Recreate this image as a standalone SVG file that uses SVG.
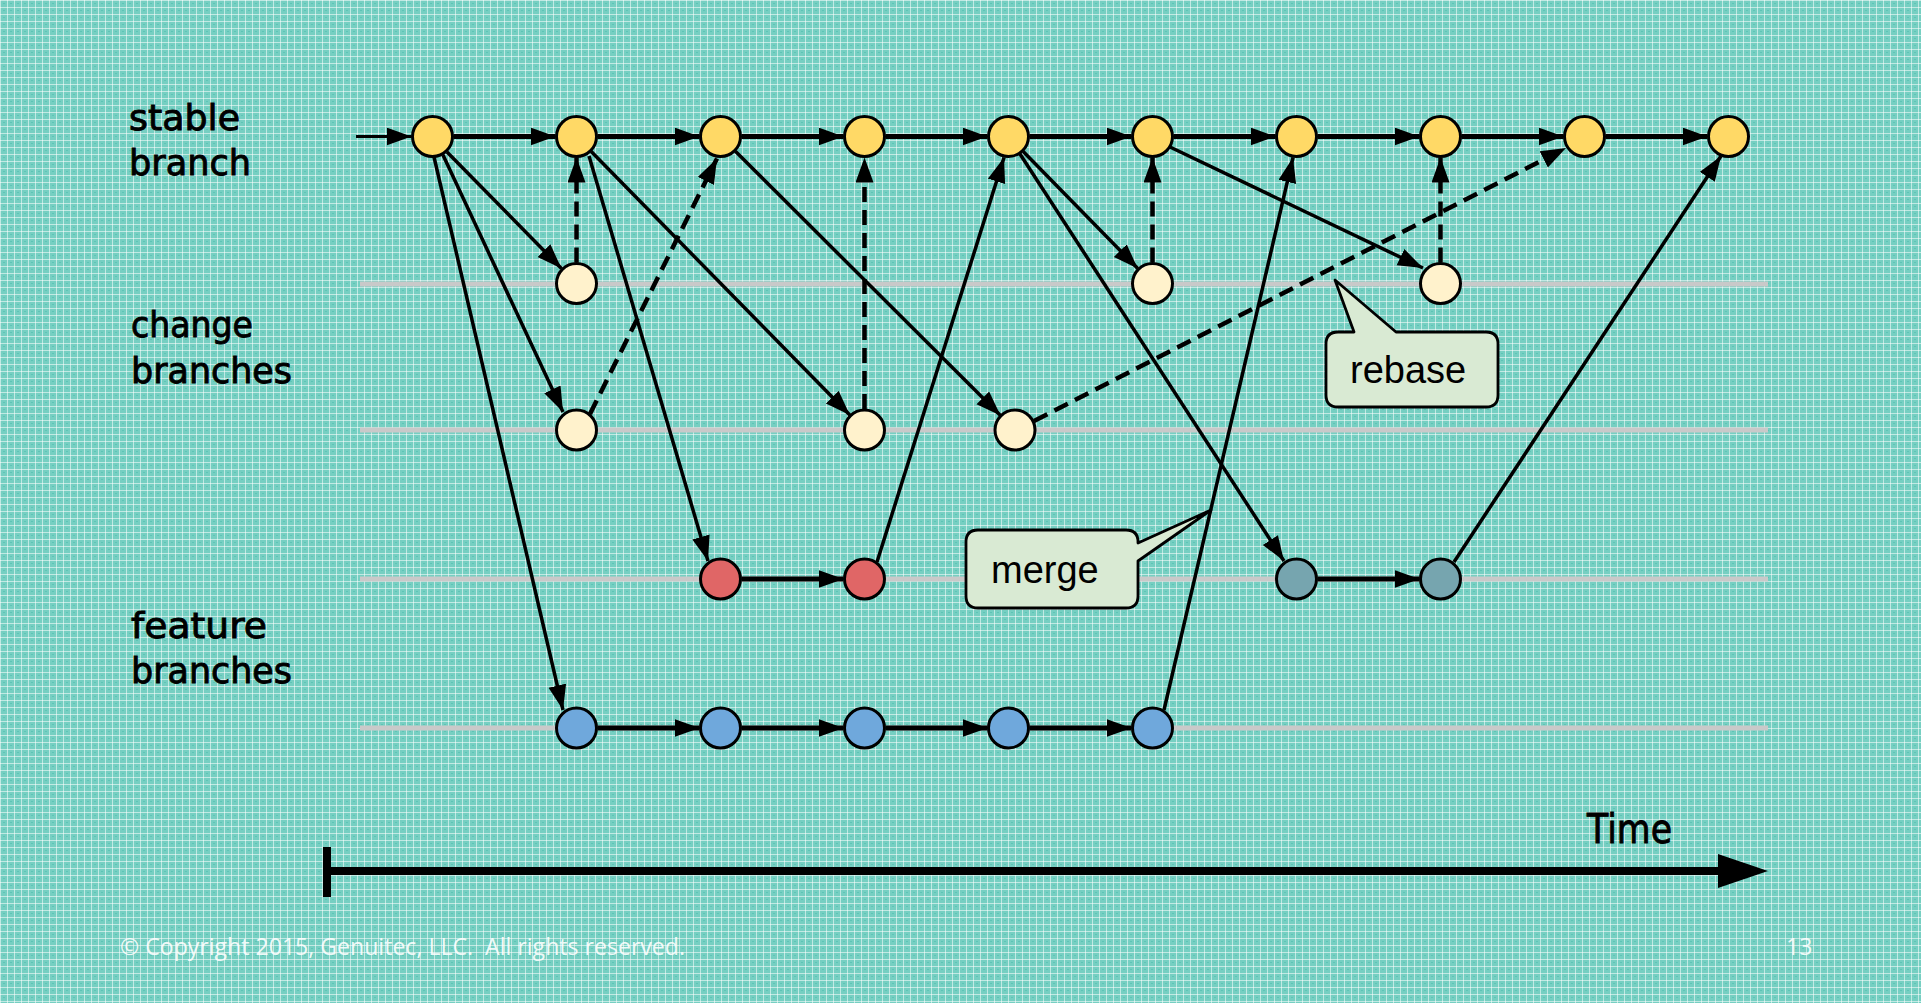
<svg xmlns="http://www.w3.org/2000/svg" width="1921" height="1003" viewBox="0 0 1921 1003">
<defs>
<pattern id="bg" x="0" y="0" width="7" height="7" patternUnits="userSpaceOnUse">
<rect width="7" height="7" fill="#76cfc2"/>
<rect x="3" y="3" width="2" height="1" fill="#5ec4b6"/>
<rect width="7" height="1" fill="#ffffff" fill-opacity="0.55"/>
<rect width="1" height="7" fill="#ffffff" fill-opacity="0.55"/>
</pattern>
<marker id="ah" markerUnits="userSpaceOnUse" markerWidth="28" markerHeight="20" viewBox="0 0 28 20" refX="25" refY="9" orient="auto">
<path d="M0,0 L25,9 L0,18 Z" fill="#000"/>
</marker>
<style>
.lbl{font-family:"DejaVu Sans","Liberation Sans",sans-serif;font-size:35px;fill:#000;stroke:#000;stroke-width:0.9}
.call{font-family:"Liberation Sans",Arial,sans-serif;font-size:38px;fill:#000}
.foot{font-family:"Open Sans","Noto Sans",sans-serif;font-size:23px;fill:#ffffff;fill-opacity:0.9;white-space:pre}
.grid{stroke:#c9c9c9;stroke-width:5}
.e{stroke:#000;stroke-width:3.5;fill:none;marker-end:url(#ah)}
.h{stroke:#000;stroke-width:5;fill:none;marker-end:url(#ah)}
.d{stroke:#000;stroke-width:4.5;fill:none;stroke-dasharray:15 8;marker-end:url(#ah)}
.n{stroke:#000;stroke-width:3}
.st{fill:#ffd966}
.ch{fill:#fff2cc}
.rd{fill:#e06666}
.bl{fill:#6fa8dc}
.gt{fill:#76a5af}
.box{fill:#d9ead3;stroke:#000;stroke-width:2.8;stroke-linejoin:round}
</style>
</defs>
<rect width="1921" height="1003" fill="url(#bg)"/>

<g id="lanes">
<line class="grid" x1="360" y1="284" x2="1768" y2="284"/>
<line class="grid" x1="360" y1="430" x2="1768" y2="430"/>
<line class="grid" x1="360" y1="579" x2="1768" y2="579"/>
<line class="grid" x1="360" y1="728" x2="1768" y2="728"/>
</g>

<g id="labels">
<text class="lbl" x="129" y="130" textLength="111" lengthAdjust="spacingAndGlyphs">stable</text>
<text class="lbl" x="129" y="175" textLength="122" lengthAdjust="spacingAndGlyphs">branch</text>
<text class="lbl" x="131" y="337" textLength="122" lengthAdjust="spacingAndGlyphs">change</text>
<text class="lbl" x="131" y="383" textLength="161" lengthAdjust="spacingAndGlyphs">branches</text>
<text class="lbl" x="131" y="638" textLength="136" lengthAdjust="spacingAndGlyphs">feature</text>
<text class="lbl" x="131" y="683" textLength="161" lengthAdjust="spacingAndGlyphs">branches</text>
</g>

<g id="connectors">
<line x1="356" y1="136.5" x2="411.5" y2="136.5" stroke="#000" stroke-width="3" marker-end="url(#ah)"/>
<line class="h" x1="453.5" y1="136.5" x2="555.5" y2="136.5"/>
<line class="h" x1="597.5" y1="136.5" x2="699.5" y2="136.5"/>
<line class="h" x1="741.5" y1="136.5" x2="843.5" y2="136.5"/>
<line class="h" x1="885.5" y1="136.5" x2="987.5" y2="136.5"/>
<line class="h" x1="1029.5" y1="136.5" x2="1131.5" y2="136.5"/>
<line class="h" x1="1173.5" y1="136.5" x2="1275.5" y2="136.5"/>
<line class="h" x1="1317.5" y1="136.5" x2="1419.5" y2="136.5"/>
<line class="h" x1="1461.5" y1="136.5" x2="1563.5" y2="136.5"/>
<line class="h" x1="1605.5" y1="136.5" x2="1707.5" y2="136.5"/>

<line class="e" x1="447" y1="152" x2="561.5" y2="268.5"/>
<line class="e" x1="443" y1="155" x2="563" y2="412"/>
<line class="e" x1="434" y1="157" x2="563" y2="710"/>
<line class="d" x1="576.5" y1="262.5" x2="576.5" y2="157.5"/>
<line class="e" x1="589" y1="156" x2="708" y2="561"/>
<line class="e" x1="591.2" y1="151.5" x2="849.8" y2="415"/>
<line class="d" x1="590" y1="414" x2="717" y2="158.5"/>
<line class="e" x1="735.4" y1="151.3" x2="1000.5" y2="415.5"/>
<line class="d" x1="864.5" y1="409" x2="864.5" y2="157.5"/>
<line class="h" x1="741.5" y1="579" x2="843.5" y2="579"/>
<line class="e" x1="877" y1="562" x2="1004" y2="157.5"/>
<line class="e" x1="1023.2" y1="151.5" x2="1137.8" y2="268.5"/>
<line class="e" x1="1020" y1="154" x2="1284" y2="561"/>
<line class="d" x1="1152.5" y1="262.5" x2="1152.5" y2="157.5"/>
<line class="e" x1="1170" y1="147" x2="1423" y2="268"/>
<line class="d" x1="1440.5" y1="262.5" x2="1440.5" y2="157.5"/>
<line class="d" x1="1034" y1="421" x2="1566" y2="148"/>
<line class="h" x1="597.5" y1="728" x2="699.5" y2="728"/>
<line class="h" x1="741.5" y1="728" x2="843.5" y2="728"/>
<line class="h" x1="885.5" y1="728" x2="987.5" y2="728"/>
<line class="h" x1="1029.5" y1="728" x2="1131.5" y2="728"/>
<line class="e" x1="1164" y1="710" x2="1293" y2="157.5"/>
<line class="h" x1="1317.5" y1="579" x2="1419.5" y2="579"/>
<line class="e" x1="1454" y1="562" x2="1721" y2="156"/>
</g>

<g id="stable-nodes">
<circle id="S0" class="n st" cx="432.5" cy="136.5" r="20"/>
<circle id="S1" class="n st" cx="576.5" cy="136.5" r="20"/>
<circle id="S2" class="n st" cx="720.5" cy="136.5" r="20"/>
<circle id="S3" class="n st" cx="864.5" cy="136.5" r="20"/>
<circle id="S4" class="n st" cx="1008.5" cy="136.5" r="20"/>
<circle id="S5" class="n st" cx="1152.5" cy="136.5" r="20"/>
<circle id="S6" class="n st" cx="1296.5" cy="136.5" r="20"/>
<circle id="S7" class="n st" cx="1440.5" cy="136.5" r="20"/>
<circle id="S8" class="n st" cx="1584.5" cy="136.5" r="20"/>
<circle id="S9" class="n st" cx="1728.5" cy="136.5" r="20"/>
</g>
<g id="change-nodes">
<circle id="C1a" class="n ch" cx="576.5" cy="283.5" r="20"/>
<circle id="C1b" class="n ch" cx="1152.5" cy="283.5" r="20"/>
<circle id="C1c" class="n ch" cx="1440.5" cy="283.5" r="20"/>
<circle id="C2a" class="n ch" cx="576.5" cy="430" r="20"/>
<circle id="C2b" class="n ch" cx="864.5" cy="430" r="20"/>
<circle id="C2c" class="n ch" cx="1015" cy="430" r="20"/>
</g>
<g id="feature-nodes">
<circle id="R0" class="n rd" cx="720.5" cy="579" r="20"/>
<circle id="R1" class="n rd" cx="864.5" cy="579" r="20"/>
<circle id="G0" class="n gt" cx="1296.5" cy="579" r="20"/>
<circle id="G1" class="n gt" cx="1440.5" cy="579" r="20"/>
<circle id="B0" class="n bl" cx="576.5" cy="728" r="20"/>
<circle id="B1" class="n bl" cx="720.5" cy="728" r="20"/>
<circle id="B2" class="n bl" cx="864.5" cy="728" r="20"/>
<circle id="B3" class="n bl" cx="1008.5" cy="728" r="20"/>
<circle id="B4" class="n bl" cx="1152.5" cy="728" r="20"/>
</g>

<g id="rebase-callout">
<path class="box" d="M1338,332 L1354,332 L1335,280 L1396,332 L1486,332 Q1498,332 1498,344 L1498,395 Q1498,407 1486,407 L1338,407 Q1326,407 1326,395 L1326,344 Q1326,332 1338,332 Z"/>
<text class="call" x="1350" y="383">rebase</text>
</g>
<g id="merge-callout">
<path class="box" d="M978,530 L1126,530 Q1138,530 1138,542 L1138,543 L1211,510 L1138,561 L1138,596 Q1138,608 1126,608 L978,608 Q966,608 966,596 L966,542 Q966,530 978,530 Z"/>
<text class="call" x="991" y="583">merge</text>
</g>

<g id="time-axis">
<rect x="323" y="847" width="8" height="50" fill="#000"/>
<line x1="327" y1="871" x2="1722" y2="871" stroke="#000" stroke-width="8"/>
<polygon points="1718,854 1768,871 1718,888" fill="#000"/>
<text class="lbl" x="1587" y="843" textLength="85" lengthAdjust="spacingAndGlyphs" style="font-size:40px">Time</text>
</g>

<g id="footer">
<text class="foot" x="120" y="955" textLength="565" lengthAdjust="spacingAndGlyphs">© Copyright 2015, Genuitec, LLC.  All rights reserved.</text>
<text class="foot" x="1786" y="955">13</text>
</g>
</svg>
